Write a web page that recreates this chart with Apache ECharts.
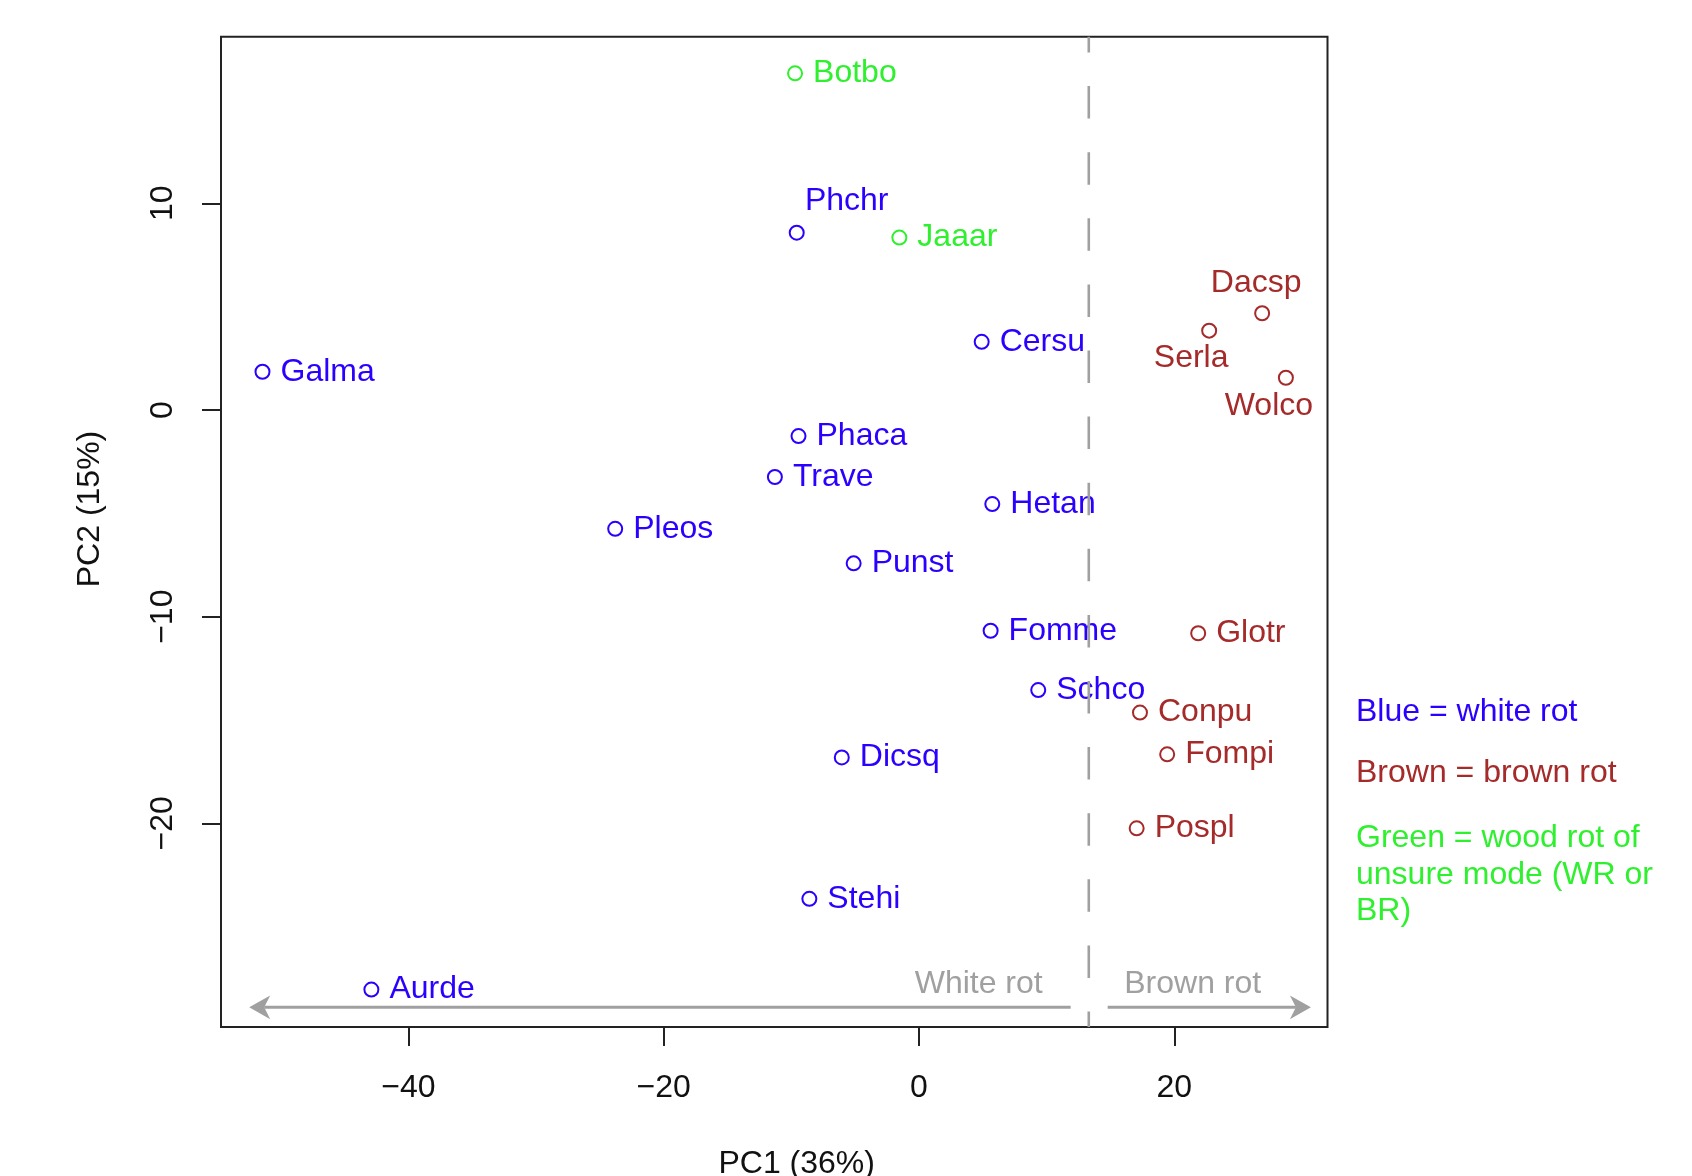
<!DOCTYPE html>
<html>
<head>
<meta charset="utf-8">
<script src="https://cdn.jsdelivr.net/npm/echarts@6/dist/echarts.min.js"></script>
<style>
html,body{margin:0;padding:0;background:#fff;}
#chart{width:1692px;height:1176px;}
</style>
</head>
<body>
<div id="chart"></div>
<script>
// ---- data ----
const names = ['Botbo','Phchr','Jaaar','Dacsp','Serla','Wolco','Cersu','Galma','Phaca','Trave','Hetan',
  'Pleos','Punst','Fomme','Glotr','Schco','Conpu','Fompi','Dicsq','Pospl','Stehi','Aurde'];
const pc1 = [-9.71,-9.58,-1.54,26.88,22.73,28.74,4.91,-51.43,-9.44,-11.29,5.74,
  -23.80,-5.12,5.61,21.87,9.34,17.31,19.44,-6.05,17.05,-8.59,-42.90];
const pc2 = [16.29,8.58,8.34,4.68,3.84,1.56,3.30,1.85,-1.26,-3.24,-4.55,
  -5.75,-7.42,-10.68,-10.80,-13.55,-14.64,-16.66,-16.81,-20.24,-23.65,-28.04];
const rotType = ['unsure','white','unsure','brown','brown','brown','white','white','white','white','white',
  'white','white','white','brown','white','brown','brown','white','brown','white','white'];
const xTicks = [-40,-20,0,20];
const yTicks = [-20,-10,0,10];
const splitPC1 = 13.3;                 // dashed boundary between white rot and brown rot
const arrowSegs = [[11.88,-28.9,-52.47,-28.9],[14.78,-28.9,30.70,-28.9]];
const arrowTexts = [{name:'White rot', x:9.69, y:-27.66, side:'left'},{name:'Brown rot', x:16.08, y:-27.66, side:'right'}];
const legendLines = [
  {text:'Blue = white rot', type:'white'},
  {text:'Brown = brown rot', type:'brown'},
  {text:'Green = wood rot of', type:'unsure'},
  {text:'unsure mode (WR or', type:'unsure'},
  {text:'BR)', type:'unsure'}
];

// ---- styles ----
const FONT = '"Liberation Sans", Arial, Helvetica, sans-serif';
const FS = 32;
const colors = {white:'#2a00ff', brown:'#a52a2a', unsure:'#2ef02e'};
const labelOverride = {
  Phchr:{position:'inside', offset:[50,-31]},
  Dacsp:{position:'inside', offset:[-6,-30]},
  Serla:{position:'inside', offset:[-18,28]},
  Wolco:{position:'inside', offset:[-17,28]}
};
const legendY = [712, 773.5, 838.5, 875, 911.5];
const GRAY = '#a0a0a0';

const fmt = v => v < 0 ? '\u2212' + Math.abs(v) : String(v);

function groupSeries(type) {
  const data = [];
  names.forEach((n, i) => {
    if (rotType[i] !== type) return;
    const item = {name:n, value:[pc1[i], pc2[i]]};
    if (labelOverride[n]) item.label = labelOverride[n];
    data.push(item);
  });
  return {
    type:'scatter', name:type, data,
    symbol:'emptyCircle', symbolSize:14,
    itemStyle:{color:colors[type], borderColor:colors[type], borderWidth:2, opacity:1},
    label:{show:true, position:'right', distance:10, formatter:'{b}', offset:[0,0],
      color:colors[type], fontSize:FS, fontFamily:FONT},
    emphasis:{disabled:true}, silent:true, z:3
  };
}

const chart = echarts.init(document.getElementById('chart'), null, {renderer:'canvas'});
const option = {
  backgroundColor:'#fff',
  animation:false,
  grid:{left:221, right:364.5, top:36.7, bottom:149, show:true, borderColor:'#222', borderWidth:2, backgroundColor:'transparent'},
  xAxis:{type:'value', min:-54.68, max:32.0,
    axisLine:{show:false, onZero:false},
    axisTick:{show:true, customValues:xTicks, length:19, inside:false, lineStyle:{color:'#222', width:2}},
    axisLabel:{customValues:xTicks, formatter:fmt, margin:45, fontSize:FS, color:'#111', fontFamily:FONT},
    splitLine:{show:false}},
  yAxis:{type:'value', min:-29.85, max:18.06,
    axisLine:{show:false, onZero:false},
    axisTick:{show:true, customValues:yTicks, length:19, inside:false, lineStyle:{color:'#222', width:2}},
    axisLabel:{customValues:yTicks, formatter:fmt, margin:42, rotate:90, fontSize:FS, color:'#111', fontFamily:FONT},
    splitLine:{show:false}},
  series:[
    groupSeries('white'), groupSeries('brown'), groupSeries('unsure'),
    {
      type:'custom', name:'arrows', data:arrowSegs, silent:true, z:2,
      renderItem(params, api){
        const p1 = api.coord([api.value(0), api.value(1)]);
        const p2 = api.coord([api.value(2), api.value(3)]);
        let dx = p2[0]-p1[0], dy = p2[1]-p1[1];
        const len = Math.hypot(dx, dy); dx/=len; dy/=len;
        const nx = -dy, ny = dx, L = 21, W = 11.8, N = 15;
        const back = [p2[0]-dx*N, p2[1]-dy*N];
        return {type:'group', children:[
          {type:'line', shape:{x1:p1[0], y1:p1[1], x2:back[0], y2:back[1]}, style:{stroke:GRAY, lineWidth:3}},
          {type:'polygon', shape:{points:[p2, [p2[0]-dx*L+nx*W, p2[1]-dy*L+ny*W], back, [p2[0]-dx*L-nx*W, p2[1]-dy*L-ny*W]]}, style:{fill:GRAY}}
        ]};
      }
    },
    {
      type:'custom', name:'split', data:[[splitPC1]], silent:true, z:5,
      renderItem(params, api){
        const x = api.value(0);
        const top = api.coord([x, 18.06]);
        const bot = api.coord([x, -29.85]);
        return {type:'line', shape:{x1:top[0], y1:top[1], x2:bot[0], y2:bot[1]},
          style:{stroke:GRAY, lineWidth:2.6, lineDash:[32.5,33.6], lineDashOffset:16.7}};
      }
    },
    {
      type:'scatter', name:'annot', symbolSize:0, silent:true, z:3,
      data:arrowTexts.map(t => ({name:t.name, value:[t.x, t.y], label:{position:t.side}})),
      itemStyle:{opacity:1},
      label:{show:true, formatter:'{b}', distance:0, offset:[0,2], color:GRAY, fontSize:FS, fontFamily:FONT},
      emphasis:{disabled:true}
    }
  ],
  graphic:[
    {type:'text', x:796.7, y:1164, style:{text:'PC1 (36%)', fontSize:FS, fontFamily:FONT, fill:'#111', textAlign:'center', textVerticalAlign:'middle'}},
    {type:'text', x:90, y:509, rotation:Math.PI/2, style:{text:'PC2 (15%)', fontSize:FS, fontFamily:FONT, fill:'#111', textAlign:'center', textVerticalAlign:'middle'}}
  ].concat(legendLines.map((l, i) => ({
    type:'text', x:1356, y:legendY[i],
    style:{text:l.text, fontSize:FS, fontFamily:FONT, fill:colors[l.type], textAlign:'left', textVerticalAlign:'middle'}
  })))
};
chart.setOption(option);
</script>
</body>
</html>
